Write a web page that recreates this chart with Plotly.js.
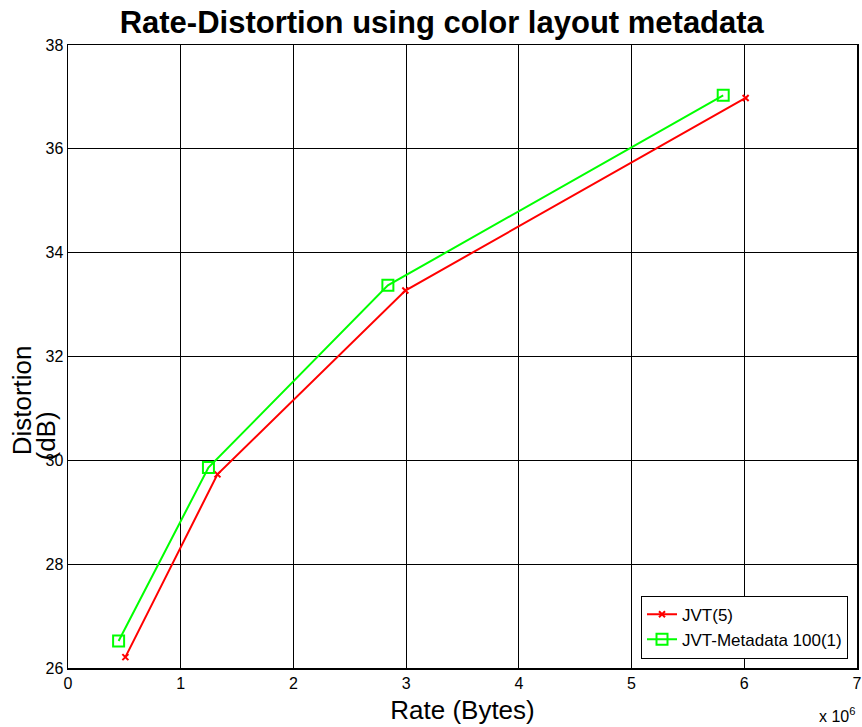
<!DOCTYPE html>
<html>
<head>
<meta charset="utf-8">
<script src="https://cdn.plot.ly/plotly-3.0.1.min.js"></script>
<style>html,body{margin:0;padding:0;background:#fff}#chart{width:862px;height:727px}</style>
</head>
<body>
<div id="chart"></div>
<script>
// Rate in bytes, distortion in dB
const jvtRate = [0.509e6, 1.326e6, 2.993e6, 6.012e6];
const jvtDist = [26.21, 29.73, 33.27, 36.98];
const metaRate = [0.449e6, 1.246e6, 2.838e6, 5.813e6];
const metaDist = [26.52, 29.86, 33.37, 37.03];
const xTickVals = [0, 1e6, 2e6, 3e6, 4e6, 5e6, 6e6, 7e6];
const xTickText = ["0", "1", "2", "3", "4", "5", "6", "7"];
const yTickVals = [26, 28, 30, 32, 34, 36, 38];

const FONT = "Liberation Sans, Arial, sans-serif";

const traces = [
  {
    x: jvtRate, y: jvtDist, name: "JVT(5)", type: "scatter", mode: "lines+markers",
    line: {color: "#ff0000", width: 2},
    marker: {symbol: "x-thin-open", size: 6, color: "#ff0000", line: {color: "#ff0000", width: 2}}
  },
  {
    x: metaRate, y: metaDist, name: "JVT-Metadata 100(1)", type: "scatter", mode: "lines+markers",
    line: {color: "#00ff00", width: 2},
    marker: {symbol: "square-open", size: 11, color: "#00ff00", line: {color: "#00ff00", width: 2}}
  }
];

const layout = {
  width: 862, height: 727,
  margin: {l: 68, r: 5, t: 44.5, b: 58.5},
  paper_bgcolor: "#fff", plot_bgcolor: "#fff",
  font: {family: FONT, color: "#000", size: 15},
  title: {
    text: "<b>Rate-Distortion using color layout metadata</b>",
    font: {family: FONT, size: 31, color: "#000"},
    x: 0.5125, xref: "container", xanchor: "center",
    y: 0.97, yref: "container", yanchor: "middle"
  },
  xaxis: {
    range: [0, 7e6], tickvals: xTickVals, ticktext: xTickText,
    showgrid: true, gridcolor: "#000", gridwidth: 1,
    zeroline: false, showline: true, linecolor: "#000", linewidth: 1.5, mirror: "ticks",
    ticks: "inside", ticklen: 6, tickcolor: "#000",
    tickfont: {family: FONT, size: 16, color: "#000"},
    title: {text: "Rate (Bytes)", font: {family: FONT, size: 26, color: "#000"}, standoff: 10}
  },
  yaxis: {
    range: [26, 38], tickvals: yTickVals,
    showgrid: true, gridcolor: "#000", gridwidth: 1,
    zeroline: false, showline: true, linecolor: "#000", linewidth: 1.5, mirror: "ticks",
    ticks: "inside", ticklen: 6, tickcolor: "#000",
    tickfont: {family: FONT, size: 16, color: "#000"}
  },
  legend: {
    x: 0.9886, y: 0.015, xanchor: "right", yanchor: "bottom",
    bgcolor: "#fff", bordercolor: "#000", borderwidth: 1,
    font: {family: FONT, size: 17, color: "#000"},
    tracegroupgap: 0, itemwidth: 30
  },
  annotations: [
    {text: "Distortion", textangle: -90, xref: "paper", yref: "paper",
     x: -0.058, y: 0.43, xanchor: "center", yanchor: "middle", showarrow: false,
     font: {family: FONT, size: 26, color: "#000"}},
    {text: "(dB)", textangle: -90, xref: "paper", yref: "paper",
     x: -0.028, y: 0.373, xanchor: "center", yanchor: "middle", showarrow: false,
     font: {family: FONT, size: 26, color: "#000"}},
    {text: "x 10<sup>6</sup>", xref: "paper", yref: "paper",
     x: 1.0, y: -0.075, xanchor: "right", yanchor: "middle", showarrow: false,
     font: {family: FONT, size: 16, color: "#000"}}
  ],
  showlegend: true
};

Plotly.newPlot("chart", traces, layout, {displayModeBar: false, staticPlot: true});
</script>
</body>
</html>
